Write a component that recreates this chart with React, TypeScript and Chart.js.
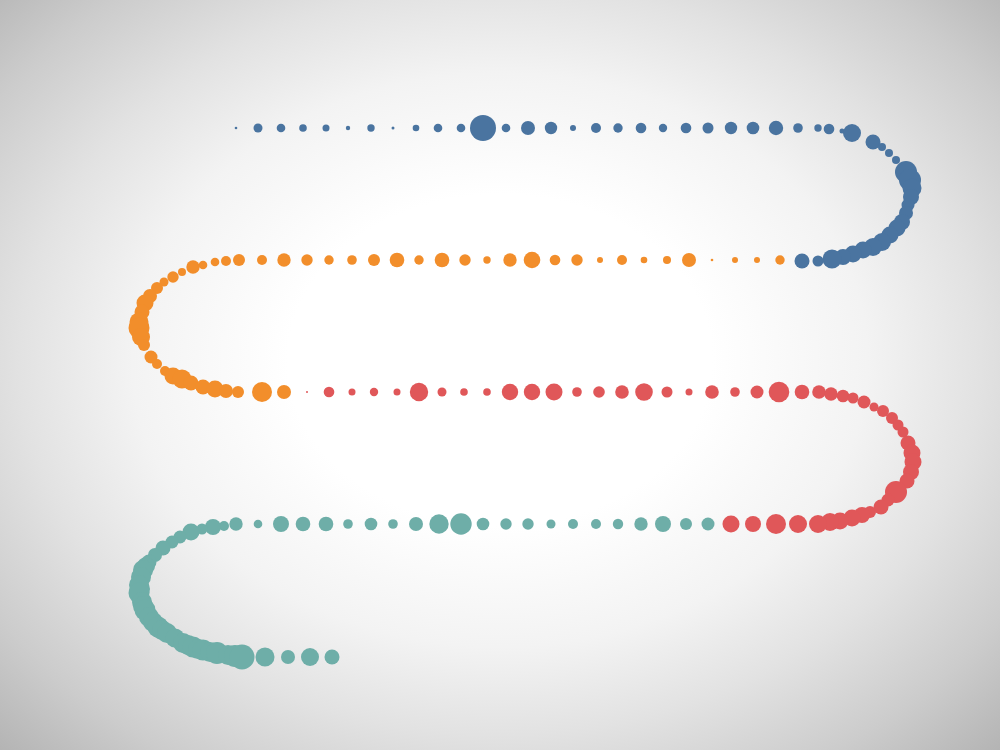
import { useEffect, useRef } from 'react'
import Chart from 'chart.js/auto'

// blue: top row, then the bend on the right
const blueX = [236, 258, 281, 303, 326, 348, 371, 393, 416, 438, 461, 483, 506, 528, 551, 573, 596, 618, 641, 663, 686, 708, 731, 753, 776, 798, 818, 829,
  842, 852, 873, 882, 889, 896, 906, 910, 912, 911, 908, 906, 902, 897, 890, 882, 873, 863, 853, 843, 832, 818, 802]
const blueY = [128, 128, 128, 128, 128, 128, 128, 128, 128, 128, 128, 128, 128, 128, 128, 128, 128, 128, 128, 128, 128, 128, 128, 128, 128, 128, 128, 129,
  131, 133, 142, 147, 153, 160, 172, 180, 188, 197, 205, 213, 222, 228, 235, 242, 247, 250, 254, 257, 259, 261, 261]
const blueR = [1.3, 4.5, 4.3, 3.8, 3.5, 2.2, 3.7, 1.5, 3.3, 4.3, 4.3, 13, 4.3, 7, 6.2, 3, 5, 4.7, 5.3, 4.2, 5.3, 5.5, 6.2, 6.3, 7.2, 4.8, 3.7, 5.3,
  2.5, 9, 7.5, 4, 4, 4, 11, 11, 9.5, 8, 6.5, 7, 8, 8.5, 8.5, 9, 9, 8.5, 8.5, 8, 9.5, 5.5, 7.5]

// orange: second row right to left, bend on the left
const orangeX = [780, 757, 735, 712, 689, 667, 644, 622, 600, 577, 555, 532, 510, 487, 465, 442, 419, 397, 374, 352, 329, 307, 284, 262, 239,
  226, 215, 203, 193, 182, 173, 164, 157, 150, 145, 142, 139, 139, 141, 144, 151, 157, 165, 173, 182, 191, 203, 215, 226, 238, 262, 284]
const orangeY = [260, 260, 260, 260, 260, 260, 260, 260, 260, 260, 260, 260, 260, 260, 260, 260, 260, 260, 260, 260, 260, 260, 260, 260, 260,
  261, 262, 265, 267, 272, 277, 282, 288, 296, 303, 312, 322, 328, 337, 345, 357, 364, 371, 376, 379, 383, 387, 389, 391, 392, 392, 392]
const orangeR = [4.7, 3, 3, 1.3, 7, 4, 3.3, 5, 3, 5.7, 5.3, 8.3, 6.7, 3.7, 5.7, 7.3, 4.7, 7.3, 6, 4.8, 4.7, 5.7, 6.7, 5, 6,
  5, 4.3, 4.3, 6.7, 4, 5.7, 4.5, 6, 7, 8.5, 7.5, 9.5, 10.5, 9, 6, 6.5, 5, 5, 8.5, 9.5, 7.5, 7.5, 8.5, 7, 6, 10, 7]

// red: third row left to right, bend on the right
const redX = [307, 329, 352, 374, 397, 419, 442, 464, 487, 510, 532, 554, 577, 599, 622, 644, 667, 689, 712, 735, 757, 779, 802, 819,
  831, 843, 853, 864, 874, 883, 892, 898, 903, 908, 912, 913, 911, 907, 896, 888, 881, 870, 862, 852, 840, 830, 818, 798, 776, 753, 731]
const redY = [392, 392, 392, 392, 392, 392, 392, 392, 392, 392, 392, 392, 392, 392, 392, 392, 392, 392, 392, 392, 392, 392, 392, 392,
  394, 396, 398, 402, 407, 411, 418, 425, 432, 443, 453, 462, 472, 481, 492, 500, 507, 512, 515, 518, 521, 522, 524, 524, 524, 524, 524]
const redR = [1, 5.3, 3.5, 4.2, 3.5, 9.2, 4.5, 3.8, 3.8, 8.2, 8.2, 8.5, 4.8, 5.8, 6.8, 8.8, 5.5, 3.5, 6.8, 4.8, 6.5, 10.3, 7.3, 6.8,
  6.7, 6.3, 5.5, 6.5, 4.5, 6, 6, 5.5, 5.5, 7.5, 8.5, 8.5, 8, 7.5, 11, 6.5, 7.5, 6, 8, 8.5, 8.5, 9, 9, 9, 10, 8, 8.5]

// teal: fourth row right to left, bend on the left, short bottom row
const tealX = [708, 686, 663, 641, 618, 596, 573, 551, 528, 506, 483, 461, 439, 416, 393, 371, 348, 326, 303, 281, 258, 236,
  224, 213, 202, 191, 180, 172, 163, 155, 149, 146, 143, 141, 140, 139, 139, 142, 143, 145, 149, 153, 158, 162, 167, 175, 183, 188, 193, 198,
  203, 210, 217, 228, 235, 242, 265, 288, 310, 332]
const tealY = [524, 524, 524, 524, 524, 524, 524, 524, 524, 524, 524, 524, 524, 524, 524, 524, 524, 524, 524, 524, 524, 524,
  526, 527, 529, 532, 537, 542, 548, 555, 562, 566, 570, 577, 589, 585, 593, 602, 606, 610, 617, 622, 627, 630, 633, 638, 643, 645, 647, 649,
  650, 652, 653, 655, 656, 657, 657, 657, 657, 657]
const tealR = [6.5, 6, 8, 6.7, 5.2, 5, 5, 4.5, 5.7, 5.7, 6.3, 10.7, 9.7, 7, 4.8, 6.3, 4.8, 7.3, 7.3, 8, 4.3, 6.7,
  5, 8, 5.5, 8.5, 6.5, 6.5, 7.5, 7, 7.5, 9, 10, 10, 10, 10, 10.5, 10, 10, 10.5, 10, 10, 10.5, 10, 10, 9.5, 10, 10, 10.5, 10,
  10.5, 10, 11, 10, 11, 12.5, 9.5, 7, 9, 7.5]

const toPoints = (xs: number[], ys: number[], rs: number[]) =>
  xs.map((x, i) => ({ x, y: ys[i], r: rs[i] }))

export default function App() {
  const canvasRef = useRef<HTMLCanvasElement>(null)
  const chartRef = useRef<Chart | null>(null)

  useEffect(() => {
    if (!canvasRef.current) return
    if (chartRef.current) chartRef.current.destroy()

    const series = [
      { label: 'Blue', data: toPoints(blueX, blueY, blueR), color: '#4a74a0' },
      { label: 'Orange', data: toPoints(orangeX, orangeY, orangeR), color: '#f28e2b' },
      { label: 'Red', data: toPoints(redX, redY, redR), color: '#e05759' },
      { label: 'Teal', data: toPoints(tealX, tealY, tealR), color: '#6eaea8' },
    ]

    chartRef.current = new Chart(canvasRef.current, {
      type: 'bubble',
      data: {
        datasets: series.map((s) => ({
          label: s.label,
          data: s.data,
          backgroundColor: s.color,
          borderWidth: 0,
          clip: false,
        })),
      },
      options: {
        animation: false,
        responsive: true,
        maintainAspectRatio: false,
        events: [],
        layout: { padding: 0, autoPadding: false },
        plugins: { legend: { display: false }, tooltip: { enabled: false } },
        scales: {
          x: { type: 'linear', min: 0, max: 1000, display: false },
          y: { type: 'linear', min: 0, max: 750, reverse: true, display: false },
        },
      },
    })

    return () => {
      if (chartRef.current) {
        chartRef.current.destroy()
        chartRef.current = null
      }
    }
  }, [])

  return (
    <div
      style={{
        position: 'fixed',
        left: 0,
        top: 0,
        width: 1000,
        height: 750,
        background:
          'radial-gradient(ellipse farthest-corner at 50% 48%, #ffffff 0%, #ffffff 30%, #f3f3f3 52%, #e2e2e2 68%, #cccccc 85%, #b4b4b4 100%)',
      }}
    >
      <canvas ref={canvasRef} />
    </div>
  )
}
